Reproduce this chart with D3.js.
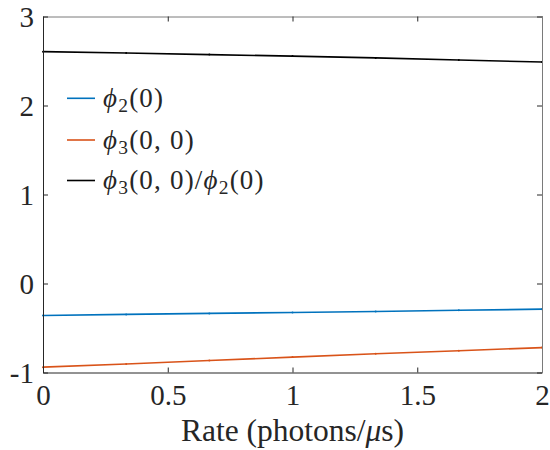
<!DOCTYPE html>
<html>
<head>
<meta charset="utf-8">
<script src="https://cdn.jsdelivr.net/npm/d3@7"></script>
<style>
  body { margin: 0; background: #fff; }
  svg text { font-family: "Liberation Serif", "Times New Roman", serif; fill: #262626; }
</style>
</head>
<body>
<svg id="chart" width="550" height="450"></svg>
<script>
// Rate axis samples (photons/µs)
const rate = [0, 1/3, 2/3, 1, 4/3, 5/3, 2];
// Correlation values at each rate
const phi2 = [-0.36, -0.347, -0.336, -0.325, -0.314, -0.301, -0.288];
const phi3 = [-0.94, -0.905, -0.866, -0.827, -0.79, -0.755, -0.72];
const ratio = [2.605, 2.59, 2.572, 2.555, 2.535, 2.512, 2.488];

const xTicks = [0, 0.5, 1, 1.5, 2];
const yTicks = [-1, 0, 1, 2, 3];

const series = [
  { name: "phi2", values: phi2, color: "#0072BD", label: [["ϕ", ""], ["2", "sub"], ["(0)", ""]] },
  { name: "phi3", values: phi3, color: "#D95319", label: [["ϕ", ""], ["3", "sub"], ["(0, 0)", ""]] },
  { name: "ratio", values: ratio, color: "#000000", label: [["ϕ", ""], ["3", "sub"], ["(0, 0)/", ""], ["ϕ", ""], ["2", "sub"], ["(0)", ""]] }
];

const svg = d3.select("#chart");
const m = { left: 43, right: 542, top: 16.5, bottom: 372.5 };

const x = d3.scaleLinear().domain([0, 2]).range([m.left, m.right]);
const y = d3.scaleLinear().domain([-1, 3]).range([m.bottom, m.top]);

const axisColor = "#262626";
const tickLen = 5;
const fontSize = 29;

// Data lines
const line = d3.line().x((d, i) => x(rate[i])).y(d => y(d));
series.forEach(s => {
  svg.append("path")
    .datum(s.values)
    .attr("fill", "none")
    .attr("stroke", s.color)
    .attr("stroke-width", 1.6)
    .attr("d", line);
  svg.append("g").selectAll("circle")
    .data(s.values)
    .join("circle")
    .attr("cx", (d, i) => x(rate[i]))
    .attr("cy", d => y(d))
    .attr("r", 1)
    .attr("fill", s.color);
});

// Axes: box with inward ticks on all four sides
const gBottom = svg.append("g").attr("transform", `translate(0,${m.bottom})`)
  .call(d3.axisBottom(x).tickValues(xTicks).tickSizeInner(-tickLen).tickSizeOuter(0).tickPadding(12).tickFormat(d3.format("")));
const gTop = svg.append("g").attr("transform", `translate(0,${m.top})`)
  .call(d3.axisTop(x).tickValues(xTicks).tickSizeInner(-tickLen).tickSizeOuter(0).tickFormat(""));
const gLeft = svg.append("g").attr("transform", `translate(${m.left},0)`)
  .call(d3.axisLeft(y).tickValues(yTicks).tickSizeInner(-tickLen).tickSizeOuter(0).tickPadding(9).tickFormat(d => d < 0 ? "-" + Math.abs(d) : d));
const gRight = svg.append("g").attr("transform", `translate(${m.right},0)`)
  .call(d3.axisRight(y).tickValues(yTicks).tickSizeInner(-tickLen).tickSizeOuter(0).tickFormat(""));

[gBottom, gTop, gLeft, gRight].forEach(g => {
  g.attr("font-family", null).attr("font-size", fontSize);
  g.select(".domain").attr("stroke", axisColor).attr("stroke-width", 1);
  g.selectAll(".tick line").attr("stroke", axisColor).attr("stroke-width", 1);
  g.selectAll(".tick text").attr("font-size", fontSize).attr("fill", axisColor);
});
gTop.select(".domain").attr("stroke", "#7a7a7a");
gRight.select(".domain").attr("stroke", "#7a7a7a");
gLeft.selectAll(".tick text").attr("dy", "0.33em");
gBottom.selectAll(".tick text").attr("dy", "0.71em");

// Axis title
const xt = svg.append("text")
  .attr("x", (m.left + m.right) / 2)
  .attr("y", 441)
  .attr("text-anchor", "middle")
  .attr("font-size", 31.5);
xt.append("tspan").text("Rate (photons/");
xt.append("tspan").attr("font-style", "italic").text("μ");
xt.append("tspan").text("s)");

// Legend
const legY = [98.3, 140, 180.5];
series.forEach((s, i) => {
  svg.append("line")
    .attr("x1", 67).attr("x2", 95)
    .attr("y1", legY[i]).attr("y2", legY[i])
    .attr("stroke", s.color).attr("stroke-width", 1.6);
  const t = svg.append("text")
    .attr("x", 103).attr("y", legY[i] + 8.5)
    .attr("font-size", 27)
    .attr("letter-spacing", 1.2);
  let lowered = false;
  s.label.forEach(([str, kind]) => {
    const sp = t.append("tspan").text(str);
    if (str === "ϕ") sp.attr("font-style", "italic");
    if (kind === "sub") { sp.attr("font-size", 19.5).attr("dy", 5); lowered = true; }
    else if (lowered) { sp.attr("dy", -5); lowered = false; }
  });
});
</script>
</body>
</html>
